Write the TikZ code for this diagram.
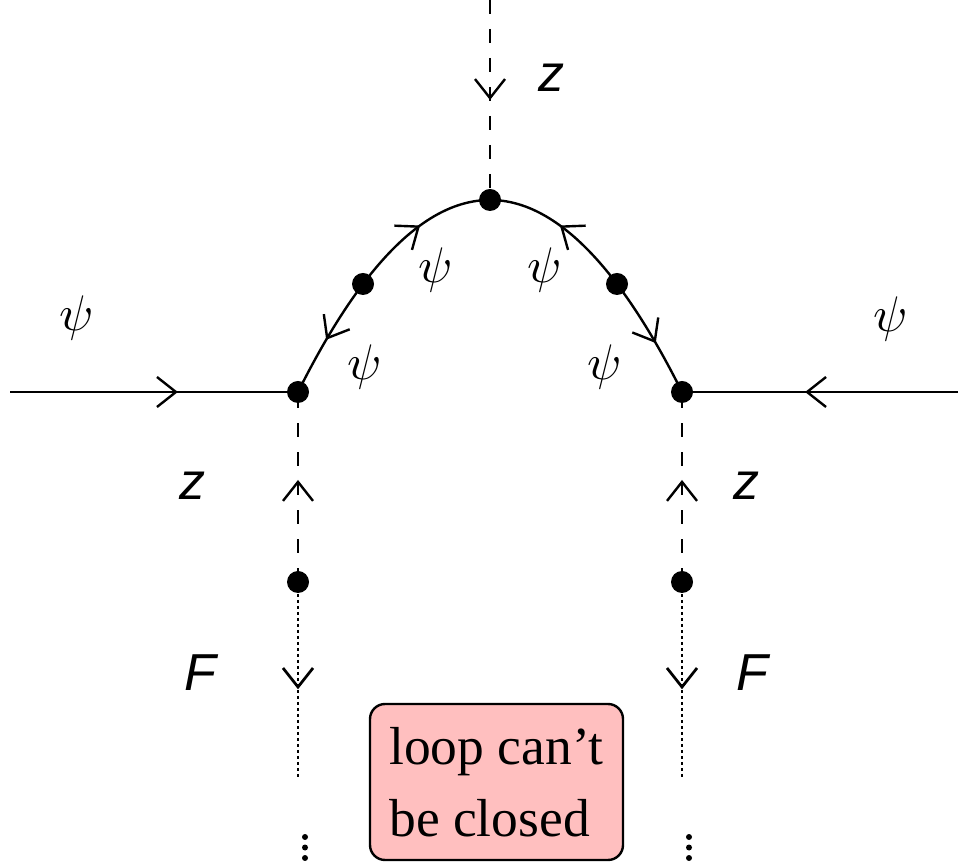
\documentclass[tikz,border=0pt]{standalone}
\usepackage{fontspec}
\newfontfamily\hvfont{Liberation Sans}
\newfontfamily\tmfont{Liberation Serif}
\usetikzlibrary{arrows.meta,decorations.markings}
\begin{document}
\begin{tikzpicture}[x=0.2pt,y=-0.2pt,line width=0.48pt,
  vtx/.style={circle,fill,inner sep=0pt,minimum size=4.4pt},
  midarrow/.style={postaction={decorate},decoration={markings,
     mark=at position #1 with {\arrow{Straight Barb[length=3.8pt,width=6pt]}}}},
  scalarline/.style={dash pattern=on 2.8pt off 3pt},
  auxline/.style={line width=0.55pt,dash pattern=on 0.55pt off 0.65pt},
  psilbl/.style={inner sep=0pt,font=\fontsize{10.4}{12}\selectfont},
  sflbl/.style={inner sep=0pt,font=\hvfont\itshape\fontsize{10.4}{12}\selectfont},
  notebox/.style={draw,rounded corners=3pt,fill={rgb,255:red,255;green,191;blue,191},
     inner xsep=3.6pt,minimum width=50.6pt,minimum height=31.2pt,align=left,
     font=\tmfont\fontsize{10.7}{14.4}\selectfont},
  smalldot/.style={circle,fill,inner sep=0pt,minimum size=1.2pt}
]
\useasboundingbox (0,0) rectangle (958,862);

% vertices
\node[vtx] (L) at (298,392) {};
\node[vtx] (D1) at (363,284) {};
\node[vtx] (T) at (490,200) {};
\node[vtx] (D2) at (617,284) {};
\node[vtx] (R) at (682,392) {};
\node[vtx] (P1) at (298,582) {};
\node[vtx] (P2) at (682,582) {};

% free ends
\coordinate (inL) at (10,392);
\coordinate (inR) at (958,392);
\coordinate (top) at (490,0);
\coordinate (fL) at (298,777);
\coordinate (fR) at (682,777);

% external fermion lines
\draw[midarrow=0.583] (inL) -- (L.center);
\draw[midarrow=0.554] (inR) -- (R.center);

% arch
\draw[midarrow=0.53] (D1.center) .. controls (341.33,312.67) and (319.67,348.67) .. (L.center);
\draw[midarrow=0.52] (D1.center) .. controls (405.33,228) and (447.67,200) .. (T.center);
\draw[midarrow=0.52] (D2.center) .. controls (574.67,228) and (532.33,200) .. (T.center);
\draw[midarrow=0.56] (D2.center) .. controls (638.67,312.67) and (660.33,348.67) .. (R.center);

% scalar lines
\draw[scalarline,midarrow=0.5] (top) -- (T.center);
\draw[scalarline,midarrow=0.537] (P1.center) -- (L.center);
\draw[scalarline,midarrow=0.537] (P2.center) -- (R.center);

% auxiliary lines
\draw[auxline,midarrow=0.55] (P1.center) -- (fL);
\draw[auxline,midarrow=0.55] (P2.center) -- (fR);

% vertical ellipses
\foreach \yy [count=\i] in {837,847.5,858} {
  \node[smalldot] (vl\i) at (305,\yy) {};
  \node[smalldot] (vr\i) at (689,\yy) {};
}

% labels
\node[sflbl] (zT) at (551,78) {z};
\node[sflbl] (zL) at (192,486) {z};
\node[sflbl] (zR) at (746,486) {z};
\node[sflbl] (FL) at (200,673) {F};
\node[sflbl] (FR) at (752,673) {F};

\node[psilbl] (p1) at (77,318) {$\psi$};
\node[psilbl] (p2) at (891,319) {$\psi$};
\node[psilbl] (p3) at (436,270) {$\psi$};
\node[psilbl] (p4) at (545,270) {$\psi$};
\node[psilbl] (p5) at (365,367) {$\psi$};
\node[psilbl] (p6) at (605,367) {$\psi$};

\node[notebox] (note) at (496.5,782) {loop can’t\\be closed};
\end{tikzpicture}
\end{document}
